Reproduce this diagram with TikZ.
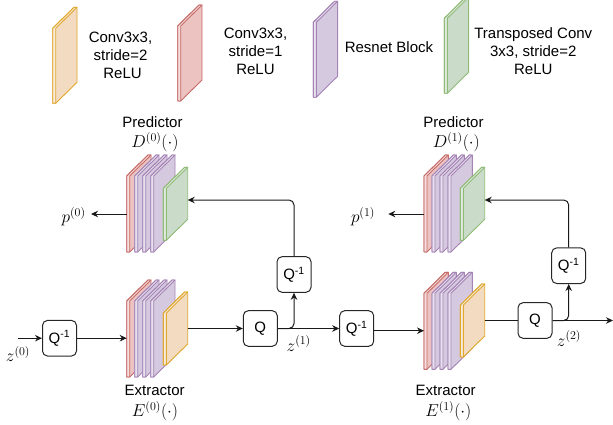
\documentclass[tikz,border=0pt]{standalone}
\usepackage{fontspec}
\setmainfont{Liberation Sans}
\usetikzlibrary{arrows.meta}

\definecolor{orangeline}{HTML}{E0A82E}
\definecolor{orangefill}{HTML}{F2DBC0}
\definecolor{redline}{HTML}{C56B68}
\definecolor{redfill}{HTML}{EDC3C1}
\definecolor{purpleline}{HTML}{A583B5}
\definecolor{purplefill}{HTML}{D5C9DF}
\definecolor{greenline}{HTML}{8FBB77}
\definecolor{greenfill}{HTML}{CADBC9}

\tikzset{
	every node/.style={font=\fontsize{15}{18}\selectfont},
	mathlabel/.style={font=\fontsize{17.28}{20}\selectfont},
	slabbox/.style={anchor=north west, inner sep=0pt, outer sep=0pt, minimum width=24.3pt},
	orangeslab/.style={draw=orangeline, fill=orangefill},
	redslab/.style={draw=redline, fill=redfill},
	purpleslab/.style={draw=purpleline, fill=purplefill},
	greenslab/.style={draw=greenline, fill=greenfill},
	qbox/.style={draw=black!85, line width=1pt, rounded corners=5pt, inner sep=0pt, minimum width=34pt, minimum height=35.6pt},
	link/.style={line width=1pt, black!90, rounded corners=5pt, -{Stealth[length=7pt,width=6.5pt]}},
	plain link/.style={line width=1pt, black!90}
}

% plate: name, top left corner, height, style
\newcommand{\slab}[4]{
	\node[slabbox, minimum height=#3pt] (#1) at (#2) {};
	\draw[#4, line width=0.9pt, line join=round] (#1.north west) ++(0,21) -- ++(21.3,-21) -- (#1.north east) -- ++(0,#3-21) -- ++(-21.3,21) -- (#1.south west) -- cycle;
	\draw[#4, line width=0.9pt, line join=round, fill=white, fill opacity=0.45] (#1.north west) ++(0,21) -- ++(21.3,-21) -- (#1.north east) -- ++(-21.3,21) -- ++(0,#3-21) -- ++(-3,0) -- cycle;
}
% red plate and three purple plates: prefix, x, y
\newcommand{\stack}[3]{
	\slab{#1red}{#2,#3}{97}{redslab}
	\slab{#1a}{#2+8,#3}{97}{purpleslab}
	\slab{#1b}{#2+16,#3}{97}{purpleslab}
	\slab{#1c}{#2+24,#3}{97}{purpleslab}
}

\begin{document}
\begin{tikzpicture}[x=1pt,y=-1pt]
	\useasboundingbox (0,0) rectangle (613,425);

	% legend
	\slab{legorange}{52.7,7.3}{96}{orangeslab}
	\node (legconv) at (120.5,55) [align=center] {Conv3x3,\\stride=2\\\ ReLU};
	\slab{legred}{177.7,5}{96}{redslab}
	\node (legconvb) at (255.5,51.5) [align=center] {Conv3x3,\\stride=1\\ReLU};
	\slab{legpurple}{313.3,1.3}{96}{purpleslab}
	\node (legres) at (389,46.7) {Resnet Block};
	\slab{leggreen}{444.3,-2.7}{96}{greenslab}
	\node (legtrans) at (533.3,51) [align=center] {Transposed Conv\\3x3, stride=2\\ReLU};

	% predictor 0
	\node (predlabela) at (152.5,121.7) {Predictor};
	\node[mathlabel] (predmatha) at (155,142) {$D^{(0)}(\cdot)$};
	\stack{pa}{126.7}{155}
	\slab{pagreen}{163.4,167.3}{73}{greenslab}

	% extractor 0
	\stack{ea}{126.7}{280}
	\slab{eaorange}{163.4,292}{73}{orangeslab}
	\node (extlabela) at (154.7,390.7) {Extractor};
	\node[mathlabel] (extmatha) at (155,411) {$E^{(0)}(\cdot)$};

	% predictor 1
	\node (predlabelb) at (453.5,121.7) {Predictor};
	\node[mathlabel] (predmathb) at (456.3,142) {$D^{(1)}(\cdot)$};
	\stack{pb}{424}{155}
	\slab{pbgreen}{460.4,167.3}{73}{greenslab}

	% extractor 1
	\stack{eb}{424}{272.3}
	\slab{eborange}{460.4,284}{73}{orangeslab}
	\node (extlabelb) at (445.7,390.7) {Extractor};
	\node[mathlabel] (extmathb) at (448.3,411) {$E^{(1)}(\cdot)$};

	% quantizer boxes
	\node[qbox] (qinva) at (59.5,338.2) {Q\textsuperscript{-1}};
	\node[qbox] (qa) at (260.3,328.5) {Q};
	\node[qbox] (qinvupa) at (294,274.5) {Q\textsuperscript{-1}};
	\node[qbox] (qinvb) at (356.7,328.5) {Q\textsuperscript{-1}};
	\node[qbox] (qb) at (535,320.5) {Q};
	\node[qbox] (qinvupb) at (568.7,265.7) {Q\textsuperscript{-1}};

	% labels
	\node[mathlabel] (zlabela) at (18,354) {$z^{(0)}$};
	\node[mathlabel] (zlabelb) at (298.7,343.5) {$z^{(1)}$};
	\node[mathlabel] (zlabelc) at (569,338.5) {$z^{(2)}$};
	\node[mathlabel] (plabela) at (73.7,216.7) {$p^{(0)}$};
	\node[mathlabel] (plabelb) at (363,216.7) {$p^{(1)}$};

	% free ends of the connectors
	\coordinate (zin) at (18,338.2);
	\coordinate (zout) at (613,320.5);
	\coordinate (pinga) at (187.7,200);
	\coordinate (pingb) at (484.7,200);
	\coordinate (pouta) at (91,214);
	\coordinate (poutb) at (388.3,214);
	\coordinate (ebin) at (424,330.7);

	% connectors
	\draw[link] (zin) -- (qinva.west);
	\draw[link] (qinva.east) -- (qinva.east -| eared.west);
	\draw[link] (eaorange.east) -- (qa.west);
	\draw[link] (qa.east) -- (qinvb.west);
	\draw[link] (qa.east) -| (qinvupa.south);
	\draw[link] (qinvupa.north) |- (pinga);
	\draw[link] (pared.west |- pouta) -- (pouta);
	\draw[link] (qinvb.east |- ebin) -- (ebin);
	\draw[plain link] (eborange.east) -- (qb.west);
	\draw[link] (qb.east) -- (zout);
	\draw[link] (qb.east) -| (qinvupb.south);
	\draw[link] (qinvupb.north) |- (pingb);
	\draw[link] (pbred.west |- poutb) -- (poutb);

\end{tikzpicture}
\end{document}
